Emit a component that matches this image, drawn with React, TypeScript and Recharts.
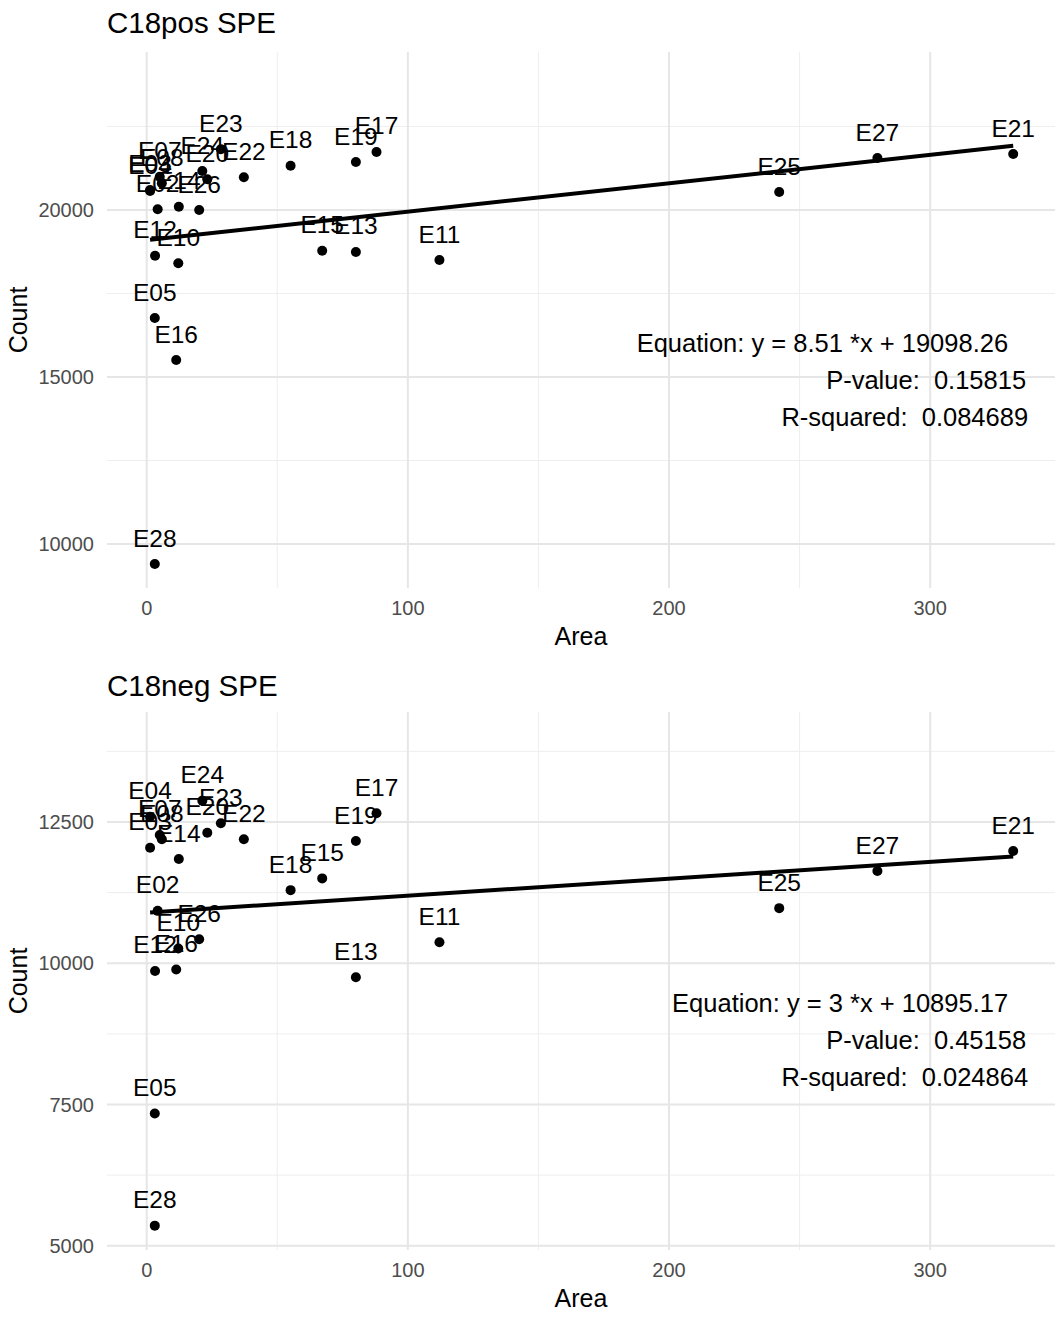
import React from 'react';
import { ScatterChart, Scatter, XAxis, YAxis, CartesianGrid } from 'recharts';

// sample ids, area (x) and feature counts for the two SPE modes
const samples = [
  'E02', 'E03', 'E04', 'E05', 'E07', 'E08', 'E10', 'E11', 'E12', 'E13', 'E14', 'E15', 'E16',
  'E17', 'E18', 'E19', 'E20', 'E21', 'E22', 'E23', 'E24', 'E25', 'E26', 'E27', 'E28',
];
const area = [
  4.2, 1.3, 1.3, 3.1, 5.0, 5.8, 12.1, 112.1, 3.2, 80.1, 12.3, 67.2, 11.3,
  88.0, 55.1, 80.1, 23.2, 331.8, 37.2, 28.4, 21.3, 242.2, 20.1, 279.8, 3.1,
];
const posCount = [
  20021, 20600, 20569, 16766, 20997, 20799, 18404, 18503, 18632, 18743, 20100, 18782, 15509,
  21737, 21327, 21437, 20919, 21677, 20979, 21817, 21168, 20539, 20000, 21557, 9401,
];
const negCount = [
  10927, 12044, 12594, 7340, 12270, 12193, 10261, 10372, 9863, 9752, 11844, 11502, 9888,
  12654, 11294, 12163, 12310, 11986, 12193, 12477, 12878, 10975, 10426, 11631, 5355,
];

const xTicks = [0, 100, 200, 300];
const xMinor = [50, 150, 250];

const posYTicks = [10000, 15000, 20000];
const posYMinor = [12500, 17500, 22500];
const negYTicks = [5000, 7500, 10000, 12500];
const negYMinor = [6250, 8750, 11250, 13750];

const posFit = { slope: 8.51, intercept: 19098.26, eq: '8.51', b: '19098.26', p: '0.15815', r2: '0.084689' };
const negFit = { slope: 3, intercept: 10895.17, eq: '3', b: '10895.17', p: '0.45158', r2: '0.024864' };

const FONT = '"Liberation Sans", Arial, Helvetica, sans-serif';

type Fit = typeof posFit;

interface PanelProps {
  title: string;
  counts: number[];
  fit: Fit;
  yDomain: [number, number];
  yTicks: number[];
  yMinor: number[];
  noteY: number;
  top: number;
  titleTop: number;
  bottomMargin: number;
}

function Panel({ title, counts, fit, yDomain, yTicks, yMinor, noteY, top, titleTop, bottomMargin }: PanelProps) {
  const points = samples.map((name, i) => ({ name, x: area[i], y: counts[i] }));
  const xs = [Math.min(...area), Math.max(...area)];
  const fitLine = xs.map((x) => ({ x, y: fit.slope * x + fit.intercept }));
  const note = [{ x: 337.5, y: noteY }];

  return (
    <div style={{ position: 'absolute', left: 0, top, width: 1061, height: 660 }}>
      <div
        style={{
          position: 'absolute',
          left: 107,
          top: titleTop,
          fontSize: 29.5,
          lineHeight: 1,
          color: '#000',
          whiteSpace: 'nowrap',
        }}
      >
        {title}
      </div>
      <ScatterChart width={1061} height={660} margin={{ top: 52, right: 6, bottom: bottomMargin, left: 0 }}>
        <CartesianGrid
          horizontalValues={yMinor}
          verticalValues={xMinor}
          stroke="#eeeeee"
          strokeWidth={1}
        />
        <CartesianGrid
          horizontalValues={yTicks}
          verticalValues={xTicks}
          stroke="#e6e6e6"
          strokeWidth={2}
        />
        <XAxis
          type="number"
          dataKey="x"
          domain={[-15.2, 347.8]}
          ticks={xTicks}
          allowDataOverflow
          axisLine={false}
          tickLine={false}
          tickSize={0}
          tickMargin={13}
          height={60}
          tick={{ fontSize: 20, fill: '#4d4d4d' }}
          label={{
            content: (p: any) => (
              <text
                x={p.viewBox.x + p.viewBox.width / 2}
                y={p.viewBox.y + 57}
                textAnchor="middle"
                fontSize={25}
                fill="#000"
              >
                Area
              </text>
            ),
          }}
        />
        <YAxis
          type="number"
          dataKey="y"
          domain={yDomain}
          ticks={yTicks}
          allowDataOverflow
          axisLine={false}
          tickLine={false}
          tickSize={0}
          tickMargin={13}
          width={107}
          tick={{ fontSize: 20, fill: '#4d4d4d' }}
          label={{
            content: (p: any) => (
              <text
                transform={`translate(27, ${p.viewBox.y + p.viewBox.height / 2}) rotate(-90)`}
                textAnchor="middle"
                fontSize={25}
                fill="#000"
              >
                Count
              </text>
            ),
          }}
        />
        <Scatter
          data={points}
          fill="#000"
          isAnimationActive={false}
          shape={(p: any) => <circle cx={p.cx} cy={p.cy} r={5} fill="#000" />}
        />
        <Scatter
          data={fitLine}
          line={{ stroke: '#000', strokeWidth: 4 }}
          isAnimationActive={false}
          shape={() => <g />}
        />
        <Scatter
          data={points}
          isAnimationActive={false}
          shape={(p: any) => (
            <text
              x={p.cx}
              y={p.cy - 26}
              textAnchor="middle"
              dominantBaseline="central"
              fontSize={24.5}
              fill="#000"
            >
              {p.payload.name}
            </text>
          )}
        />
        <Scatter
          data={note}
          isAnimationActive={false}
          shape={(p: any) => (
            <g fontSize={25.5} fill="#000">
              <text x={p.cx - 20} y={p.cy - 37} textAnchor="end" dominantBaseline="central">
                {`Equation: y = ${fit.eq} *x + ${fit.b}`}
              </text>
              <text x={p.cx - 2} y={p.cy} textAnchor="end" dominantBaseline="central">
                {`P-value:\u00a0\u00a0${fit.p}`}
              </text>
              <text x={p.cx} y={p.cy + 37} textAnchor="end" dominantBaseline="central">
                {`R-squared:\u00a0\u00a0${fit.r2}`}
              </text>
            </g>
          )}
        />
      </ScatterChart>
    </div>
  );
}

export default function App() {
  return (
    <div
      style={{
        position: 'absolute',
        left: 0,
        top: 0,
        width: 1061,
        height: 1320,
        background: '#fff',
        fontFamily: FONT,
      }}
    >
      <Panel
        title="C18pos SPE"
        counts={posCount}
        fit={posFit}
        yDomain={[8683, 24731]}
        yTicks={posYTicks}
        yMinor={posYMinor}
        noteY={14910}
        top={0}
        titleTop={8}
        bottomMargin={12}
      />
      <Panel
        title="C18neg SPE"
        counts={negCount}
        fit={negFit}
        yDomain={[4924, 14447]}
        yTicks={negYTicks}
        yMinor={negYMinor}
        noteY={8635}
        top={660}
        titleTop={11}
        bottomMargin={10}
      />
    </div>
  );
}
